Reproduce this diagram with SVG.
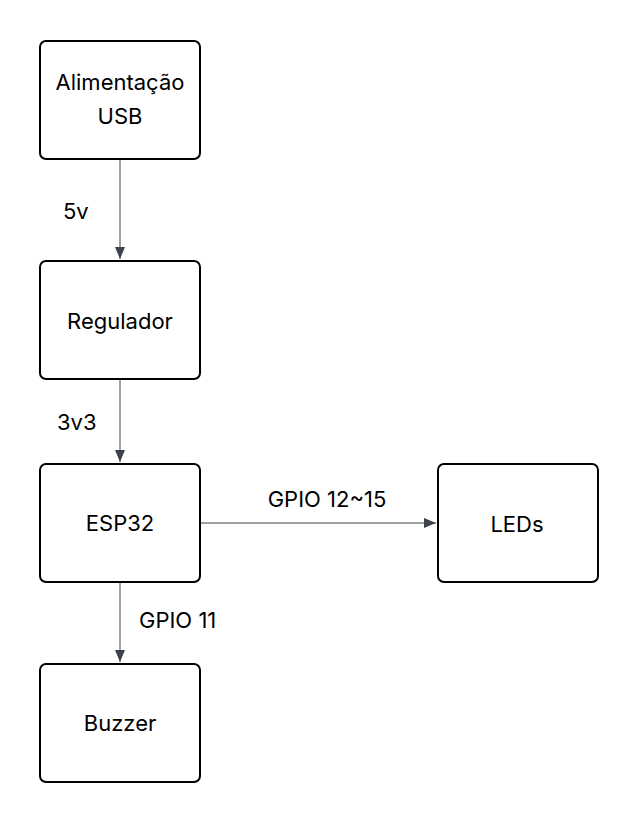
<svg xmlns="http://www.w3.org/2000/svg" width="638" height="824" viewBox="0 0 638 824">
<style>
.box{fill:#fff;stroke:#000;stroke-width:2}
.t{font-family:Inter,"Liberation Sans",sans-serif;font-size:22px;fill:#000;text-anchor:middle;dominant-baseline:central}
.l{font-family:Inter,"Liberation Sans",sans-serif;font-size:22px;fill:#000;dominant-baseline:central}
.c{stroke:#3d434d;stroke-width:1;fill:none;marker-end:url(#ah)}
</style>
<defs>
<marker id="ah" markerWidth="12" markerHeight="10" refX="12" refY="5" orient="auto" markerUnits="userSpaceOnUse">
<path d="M0,0 L12,5 L0,10 Z" fill="#3d434d"/>
</marker>
</defs>
<rect width="638" height="824" fill="#fff"/>
<g id="connectors">
<line class="c" x1="120" y1="160" x2="120" y2="259"/>
<line class="c" x1="120" y1="380" x2="120" y2="462"/>
<line class="c" x1="201" y1="523" x2="436" y2="523"/>
<line class="c" x1="120" y1="583" x2="120" y2="662"/>
<text class="l" x="63" y="211">5v</text>
<text class="l" x="57" y="422">3v3</text>
<text class="t" x="327" y="499">GPIO 12~15</text>
<text class="l" x="139" y="620">GPIO 11</text>
</g>
<g id="usb">
<rect class="box" x="40" y="41" width="160" height="118" rx="6"/>
<text class="t" x="120" y="82">Alimentação</text>
<text class="t" x="120" y="116">USB</text>
</g>
<g id="regulador">
<rect class="box" x="40" y="261" width="160" height="118" rx="6"/>
<text class="t" x="120" y="321">Regulador</text>
</g>
<g id="esp32">
<rect class="box" x="40" y="464" width="160" height="118" rx="6"/>
<text class="t" x="120" y="523">ESP32</text>
</g>
<g id="leds">
<rect class="box" x="438" y="464" width="160" height="118" rx="6"/>
<text class="t" x="517" y="524">LEDs</text>
</g>
<g id="buzzer">
<rect class="box" x="40" y="664" width="160" height="118" rx="6"/>
<text class="t" x="120" y="723">Buzzer</text>
</g>
</svg>
